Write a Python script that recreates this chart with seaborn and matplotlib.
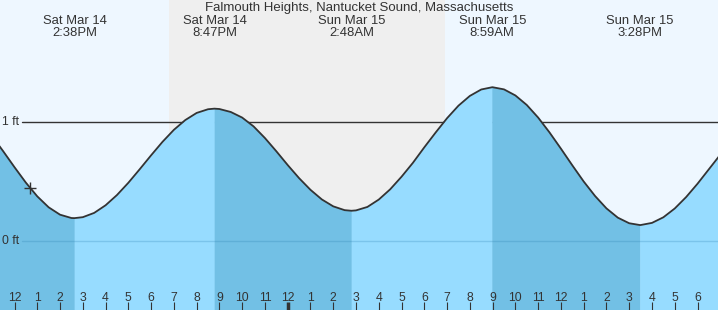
import numpy as np
import matplotlib
matplotlib.use("Agg")
import matplotlib.pyplot as plt
import matplotlib.transforms as mtransforms
import seaborn as sns

# ---- data (hours since Sat Mar 14 00:00, tide height in ft) ----
times = [11.0, 11.5, 12.0, 12.5, 13.0, 13.5, 14.0, 14.5, 14.633,
         15.0, 15.5, 16.0, 16.5, 17.0, 17.5, 18.0, 18.5, 19.0, 19.5, 20.0, 20.5, 20.783,
         21.0, 21.5, 22.0, 22.5, 23.0, 23.5, 24.0, 24.5, 25.0, 25.5, 26.0, 26.5, 26.8,
         27.0, 27.5, 28.0, 28.5, 29.0, 29.5, 30.0, 30.5, 31.0, 31.5, 32.0, 32.5, 32.983,
         33.0, 33.5, 34.0, 34.5, 35.0, 35.5, 36.0, 36.5, 37.0, 37.5, 38.0, 38.5, 39.0, 39.467,
         39.5, 40.0, 40.5, 41.0, 41.5, 42.0, 42.5, 43.0]
heights = [0.888, 0.758, 0.623, 0.493, 0.378, 0.286, 0.224, 0.196, 0.195,
           0.203, 0.239, 0.303, 0.389, 0.492, 0.606, 0.723, 0.836, 0.937, 1.019, 1.079, 1.110, 1.115,
           1.112, 1.087, 1.040, 0.966, 0.868, 0.757, 0.641, 0.531, 0.433, 0.352, 0.294, 0.262, 0.257,
           0.260, 0.289, 0.351, 0.437, 0.543, 0.660, 0.790, 0.915, 1.035, 1.140, 1.222, 1.276, 1.295,
           1.295, 1.277, 1.226, 1.146, 1.040, 0.915, 0.779, 0.639, 0.503, 0.381, 0.277, 0.199, 0.152, 0.137,
           0.137, 0.155, 0.202, 0.276, 0.372, 0.484, 0.606, 0.728]

ext_times = [14.633, 20.783, 26.8, 32.983, 39.467]
ext_days = ["Sat Mar 14", "Sat Mar 14", "Sun Mar 15", "Sun Mar 15", "Sun Mar 15"]
ext_clock = ["2:38PM", "8:47PM", "2:48AM", "8:59AM", "3:28PM"]

night_start, night_end = 18.795, 30.918
now_time, now_height = 12.69, 0.45

tick_hours = list(range(12, 43))
tick_labels = ["12", "1", "2", "3", "4", "5", "6", "7", "8", "9", "10", "11",
               "12", "1", "2", "3", "4", "5", "6", "7", "8", "9", "10", "11",
               "12", "1", "2", "3", "4", "5", "6"]
y_levels = [0, 1]
y_labels = ["0 ft", "1 ft"]
title = "Falmouth Heights, Nantucket Sound, Massachusetts"

# ---- style ----
sns.set_style("white")
plt.rcParams["font.family"] = ["Liberation Sans", "DejaVu Sans"]
TXT = "#333333"
DAY_BG = "#eef7ff"
NIGHT_BG = "#efefef"
LIGHT = "#97dcff"
DARK = "#72c0e5"

fig = plt.figure(figsize=(7.18, 3.10), dpi=100)
ax = fig.add_axes([0, 0, 1, 1])
ax.set_facecolor(DAY_BG)
ax.set_axisbelow(False)
for s in ax.spines.values():
    s.set_visible(False)

x0 = 11.363
x1 = x0 + 718 / 22.767
ax.set_xlim(x0, x1)
ax.set_ylim(-0.577, 2.028)

ax.axvspan(night_start, night_end, color=NIGHT_BG, zorder=0, lw=0)

# 1 ft reference line (under fill)
ax.axhline(1, xmin=22 / 718, xmax=1, color=TXT, lw=1.0, zorder=1)

t = np.array(times)
h = np.array(heights)
bounds = [t.min()] + ext_times + [t.max()]
for i in range(len(bounds) - 1):
    a, b = bounds[i], bounds[i + 1]
    m = (t >= a) & (t <= b)
    falling = h[m][0] > h[m][-1]
    col = DARK if falling else LIGHT
    ax.fill_between(t[m], -1, h[m], facecolor=col, edgecolor=col, lw=0.4, zorder=2)

# 0 ft line over fill
ax.axhline(0, xmin=22 / 718, xmax=1, color="#2a7fb0", alpha=0.25, lw=1.0, zorder=3)

sns.lineplot(x=times, y=heights, ax=ax, color="#333333", lw=1.3, zorder=4)

ax.plot([now_time], [now_height], marker="+", ms=8, mew=1.0, color="#333333", zorder=5)

# ticks
ax.set_xticks(tick_hours)
ax.set_xticklabels(tick_labels)
ax.tick_params(axis="x", direction="in", length=6, width=0.8, color=TXT,
               labelcolor=TXT, labelsize=8.8, pad=-13.3, bottom=True, labelbottom=True)
ax.set_yticks([])
ticks = ax.xaxis.get_major_ticks()
ticks[tick_hours.index(24)].tick1line.set_markeredgewidth(2.5)
ax.set_ylabel("")
ax.set_xlabel("")

# y labels
ty = mtransforms.blended_transform_factory(ax.transAxes, ax.transData)
for lv, lb in zip(y_levels, y_labels):
    ax.text(2 / 718, lv, lb, transform=ty, ha="left", va="center",
            fontsize=8.8, color=TXT, zorder=6)

# headers
tx = mtransforms.blended_transform_factory(ax.transData, ax.transAxes)
for et, d, c in zip(ext_times, ext_days, ext_clock):
    ax.text(et, 1 - 21.3 / 310, d, transform=tx, ha="center", va="center",
            fontsize=9.4, color=TXT, zorder=6)
    ax.text(et, 1 - 33.0 / 310, c, transform=tx, ha="center", va="center",
            fontsize=9.4, color=TXT, zorder=6)
ax.text(0.5, 1 - 8.5 / 310, title, transform=ax.transAxes, ha="center", va="center",
        fontsize=9.5, color=TXT, zorder=6)

fig.savefig("out.png", dpi=100)
